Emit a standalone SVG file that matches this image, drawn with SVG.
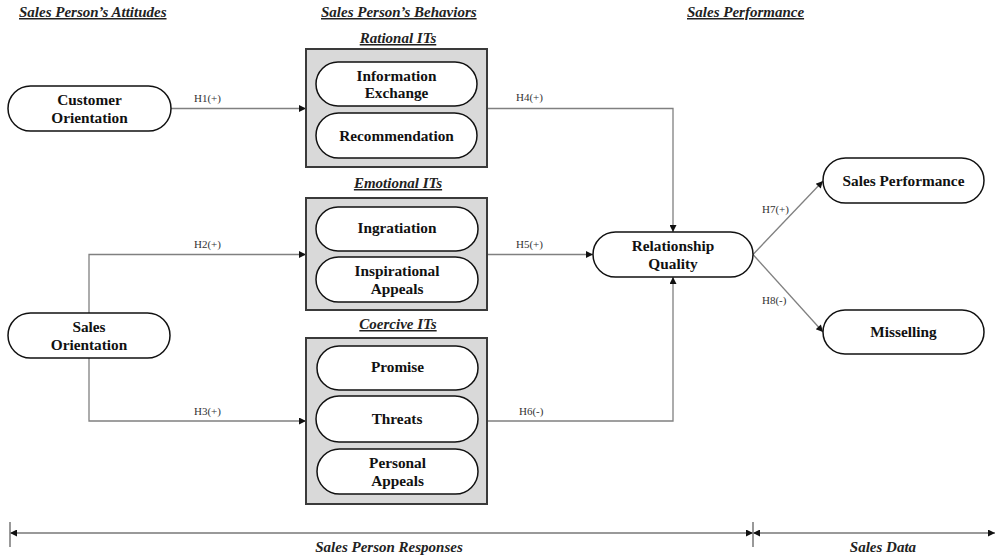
<svg xmlns="http://www.w3.org/2000/svg" width="995" height="557" viewBox="0 0 995 557">
<style>
.hdr{font-family:"Liberation Serif",serif;font-weight:bold;font-style:italic;font-size:15px;fill:#222;text-decoration:underline}
.foot{font-family:"Liberation Serif",serif;font-weight:bold;font-style:italic;font-size:15px;fill:#222}
.nt{font-family:"Liberation Serif",serif;font-weight:bold;font-size:15.3px;fill:#111;text-anchor:middle}
.lbl{font-family:"Liberation Serif",serif;font-size:11px;fill:#333}
.node{fill:#fff;stroke:#111;stroke-width:1.5}
.box{fill:#d9d9d9;stroke:#3a3a3a;stroke-width:2}
.con{fill:none;stroke:#808080;stroke-width:1.3}
.tl{fill:none;stroke:#999;stroke-width:2}
</style>
<defs>
<marker id="ah" viewBox="0 0 10 10" refX="10" refY="5" markerWidth="9" markerHeight="7" markerUnits="userSpaceOnUse" orient="auto-start-reverse">
<path d="M0,0 L10,5 L0,10 z" fill="#111"/>
</marker>
</defs>

<g id="headers">
<text class="hdr" x="19" y="17">Sales Person’s Attitudes</text>
<text class="hdr" x="321" y="17">Sales Person’s Behaviors</text>
<text class="hdr" x="687" y="17">Sales Performance</text>
<text class="hdr" x="398" y="43" text-anchor="middle">Rational ITs</text>
<text class="hdr" x="398" y="188" text-anchor="middle">Emotional ITs</text>
<text class="hdr" x="398" y="329" text-anchor="middle">Coercive ITs</text>
</g>

<g id="connectors">
<line class="con" x1="171" y1="108.5" x2="306" y2="108.5" marker-end="url(#ah)"/>
<polyline class="con" points="89,313 89,254.5 306,254.5" marker-end="url(#ah)"/>
<polyline class="con" points="89,358 89,421 306,421" marker-end="url(#ah)"/>
<polyline class="con" points="487,108.5 673,108.5 673,232" marker-end="url(#ah)"/>
<line class="con" x1="487" y1="254.5" x2="593" y2="254.5" marker-end="url(#ah)"/>
<polyline class="con" points="487,421 673,421 673,277" marker-end="url(#ah)"/>
<line class="con" x1="753" y1="254.5" x2="823" y2="181" marker-end="url(#ah)"/>
<line class="con" x1="753" y1="254.5" x2="823" y2="332" marker-end="url(#ah)"/>
<text class="lbl" x="194" y="102">H1(+)</text>
<text class="lbl" x="194" y="248">H2(+)</text>
<text class="lbl" x="194" y="415">H3(+)</text>
<text class="lbl" x="516" y="101">H4(+)</text>
<text class="lbl" x="516" y="248">H5(+)</text>
<text class="lbl" x="519" y="415">H6(-)</text>
<text class="lbl" x="762" y="213">H7(+)</text>
<text class="lbl" x="762" y="304">H8(-)</text>
</g>

<g id="customer-orientation">
<rect class="node" x="8" y="86" width="163" height="45" rx="22.5"/>
<text class="nt" x="89.5" y="105">Customer</text>
<text class="nt" x="89.5" y="123">Orientation</text>
</g>
<g id="sales-orientation">
<rect class="node" x="8" y="313" width="162" height="45" rx="22.5"/>
<text class="nt" x="89" y="332">Sales</text>
<text class="nt" x="89" y="350">Orientation</text>
</g>

<g id="rational-its">
<rect class="box" x="306" y="49" width="181" height="118"/>
<g id="information-exchange">
<rect class="node" x="316" y="62" width="161" height="44" rx="22"/>
<text class="nt" x="396.5" y="81">Information</text>
<text class="nt" x="396.5" y="98">Exchange</text>
</g>
<g id="recommendation">
<rect class="node" x="316" y="113" width="161" height="45" rx="22.5"/>
<text class="nt" x="396.5" y="141">Recommendation</text>
</g>
</g>

<g id="emotional-its">
<rect class="box" x="306" y="198" width="181" height="112"/>
<g id="ingratiation">
<rect class="node" x="316" y="207" width="162" height="44" rx="22"/>
<text class="nt" x="397" y="233">Ingratiation</text>
</g>
<g id="inspirational-appeals">
<rect class="node" x="316" y="257" width="162" height="45" rx="22.5"/>
<text class="nt" x="397" y="276">Inspirational</text>
<text class="nt" x="397" y="294">Appeals</text>
</g>
</g>

<g id="coercive-its">
<rect class="box" x="306" y="338" width="181" height="166"/>
<g id="promise">
<rect class="node" x="317" y="346" width="161" height="44" rx="22"/>
<text class="nt" x="397.5" y="372">Promise</text>
</g>
<g id="threats">
<rect class="node" x="316" y="396" width="162" height="46" rx="23"/>
<text class="nt" x="397" y="424">Threats</text>
</g>
<g id="personal-appeals">
<rect class="node" x="317" y="449" width="161" height="45" rx="22.5"/>
<text class="nt" x="397.5" y="468">Personal</text>
<text class="nt" x="397.5" y="486">Appeals</text>
</g>
</g>

<g id="relationship-quality">
<rect class="node" x="593" y="232" width="160" height="45" rx="22.5"/>
<text class="nt" x="673" y="251">Relationship</text>
<text class="nt" x="673" y="269">Quality</text>
</g>
<g id="sales-performance">
<rect class="node" x="823" y="158" width="161" height="45" rx="22.5"/>
<text class="nt" x="903.5" y="186">Sales Performance</text>
</g>
<g id="misselling">
<rect class="node" x="823" y="310" width="161" height="44" rx="22"/>
<text class="nt" x="903.5" y="337">Misselling</text>
</g>

<g id="timeline">
<line class="tl" x1="10" y1="522" x2="10" y2="547" stroke-width="1.3"/>
<line class="tl" x1="753" y1="522" x2="753" y2="547" stroke-width="1.3"/>
<line class="tl" x1="10" y1="533" x2="753" y2="533" marker-start="url(#ah)" marker-end="url(#ah)"/>
<line class="tl" x1="753" y1="533" x2="995" y2="533" marker-start="url(#ah)" marker-end="url(#ah)"/>
<text class="foot" x="389" y="552" text-anchor="middle">Sales Person Responses</text>
<text class="foot" x="883" y="552" text-anchor="middle">Sales Data</text>
</g>
</svg>
